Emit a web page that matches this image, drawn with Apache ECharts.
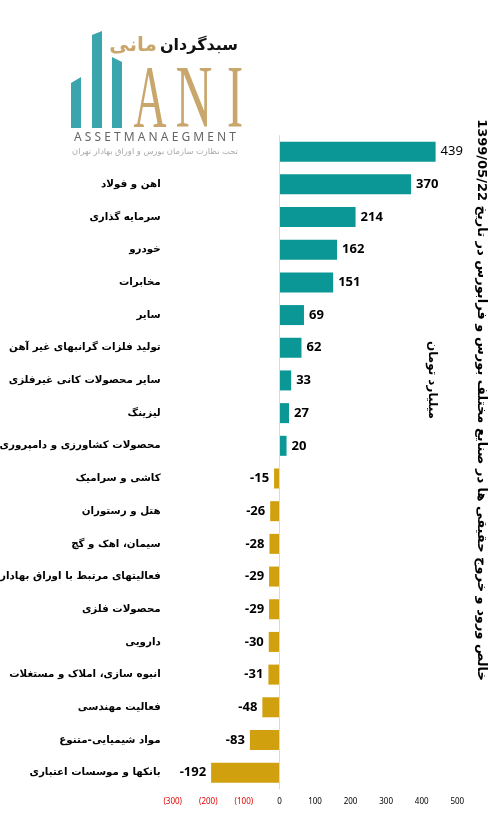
<!DOCTYPE html>
<html>
<head>
<meta charset="utf-8">
<script src="https://cdn.jsdelivr.net/npm/echarts@6/dist/echarts.min.js"></script>
<style>
html,body{margin:0;padding:0;background:#fff;}
#c{width:498px;height:824px;}
</style>
</head>
<body>
<div id="c"></div>
<script>
// ---- data ----
const categories = ['', 'اهن و فولاد', 'سرمایه گذاری', 'خودرو', 'مخابرات', 'سایر',
  'تولید فلزات گرانبهای غیر آهن', 'سایر محصولات کانی غیرفلزی', 'لیزینگ',
  'محصولات کشاورزی و دامپروری', 'کاشی و سرامیک', 'هتل و رستوران', 'سیمان، اهک و گچ',
  'فعالیتهای مرتبط با اوراق بهادار', 'محصولات فلزی', 'دارویی', 'انبوه سازی، املاک و مستغلات',
  'فعالیت مهندسی', 'مواد شیمیایی-متنوع', 'بانکها و موسسات اعتباری'];
const values = [439, 370, 214, 162, 151, 69, 62, 33, 27, 20, -15, -26, -28, -29, -29, -30, -31, -48, -83, -192];
const axisTicks = [-300, -200, -100, 0, 100, 200, 300, 400, 500];
const titleText = 'خالص ورود و خروج حقیقی ها در صنایع مختلف بورس و فرابورس در تاریخ 1399/05/22';
const unitText = 'میلیارد تومان';

const TEAL = '#0b9795', GOLD = '#d1a00e', LOGO_TEAL = '#3ba5ad', LOGO_GOLD = '#c9a66b';
const AR = "'DejaVu Sans', sans-serif";

const chart = echarts.init(document.getElementById('c'));
const data = values.map((v, i) => ({
  value: v,
  itemStyle: { color: v >= 0 ? TEAL : GOLD },
  label: { position: v >= 0 ? 'right' : 'left', fontWeight: i === 0 ? 'normal' : 'bold' }
}));

chart.setOption({
  backgroundColor: '#fff',
  animation: false,
  grid: { left: 172.7, right: 40.7, top: 135.3, bottom: 35, containLabel: false, outerBoundsMode: 'none' },
  xAxis: {
    type: 'value', min: axisTicks[0], max: axisTicks[axisTicks.length - 1], interval: 100,
    axisLine: { show: false }, axisTick: { show: false }, splitLine: { show: false },
    axisLabel: {
      margin: 9, fontSize: 8, fontFamily: "'Noto Sans', sans-serif",
      formatter: v => v < 0 ? '(' + Math.abs(v) + ')' : String(v),
      color: v => v < 0 ? '#e00000' : '#000'
    }
  },
  yAxis: {
    type: 'category', data: categories, inverse: true,
    axisLine: { show: false }, axisTick: { show: false },
    axisLabel: { margin: 12, fontSize: 10.3, fontWeight: 'bold', color: '#000', fontFamily: AR }
  },
  series: [{
    type: 'bar', data: data, barWidth: 20,
    label: { show: true, distance: 5, fontSize: 13, color: '#000', fontFamily: "'Noto Sans', sans-serif" },
    markLine: {
      silent: true, symbol: 'none', label: { show: false },
      lineStyle: { color: '#d9d9d9', width: 1, type: 'solid' },
      data: [{ xAxis: 0 }]
    }
  }],
  graphic: [
    // logo bars
    { type: 'polygon', shape: { points: [[71, 83], [81, 77], [81, 128], [71, 128]] }, style: { fill: LOGO_TEAL } },
    { type: 'polygon', shape: { points: [[92, 35], [102, 31], [102, 128], [92, 128]] }, style: { fill: LOGO_TEAL } },
    { type: 'polygon', shape: { points: [[112, 57], [122, 62], [122, 128], [112, 128]] }, style: { fill: LOGO_TEAL } },
    // ANI
    { type: 'text', x: 150, y: 147, scaleX: 0.52, style: { text: 'A', fill: LOGO_GOLD, font: "88px 'Liberation Serif'", textAlign: 'center', textVerticalAlign: 'bottom' } },
    { type: 'text', x: 194, y: 147, scaleX: 0.58, style: { text: 'N', fill: LOGO_GOLD, font: "88px 'Liberation Serif'", textAlign: 'center', textVerticalAlign: 'bottom' } },
    { type: 'text', x: 235, y: 147, scaleX: 0.55, style: { text: 'I', fill: LOGO_GOLD, font: "88px 'Liberation Serif'", textAlign: 'center', textVerticalAlign: 'bottom' } },
    // persian brand
    { type: 'text', x: 238, y: 46, style: { text: 'سبدگردان', fill: '#111', font: "bold 16px " + AR, textAlign: 'right', textVerticalAlign: 'middle' } },
    { type: 'text', x: 157, y: 46, style: { text: 'مانی', fill: LOGO_GOLD, font: "bold 20px " + AR, textAlign: 'right', textVerticalAlign: 'middle' } },
    { type: 'text', x: 155, y: 137.5, style: { text: 'A S S E T M A N A E G M E N T', fill: '#666', font: "12px 'Noto Sans'", textAlign: 'center', textVerticalAlign: 'middle' } },
    { type: 'text', x: 155, y: 152, style: { text: 'تحت نظارت سازمان بورس و اوراق بهادار تهران', fill: '#aaa', font: "8.3px " + AR, textAlign: 'center', textVerticalAlign: 'middle' } },
    // vertical title & unit
    { type: 'text', x: 481, y: 400, rotation: -Math.PI / 2, style: { text: '\u202B' + titleText + '\u202C', fill: '#000', font: "bold 13px " + AR, textAlign: 'center', textVerticalAlign: 'middle' } },
    { type: 'text', x: 432, y: 380, rotation: -Math.PI / 2, style: { text: unitText, fill: '#000', font: "bold 12px " + AR, textAlign: 'center', textVerticalAlign: 'middle' } }
  ]
});
</script>
</body>
</html>
